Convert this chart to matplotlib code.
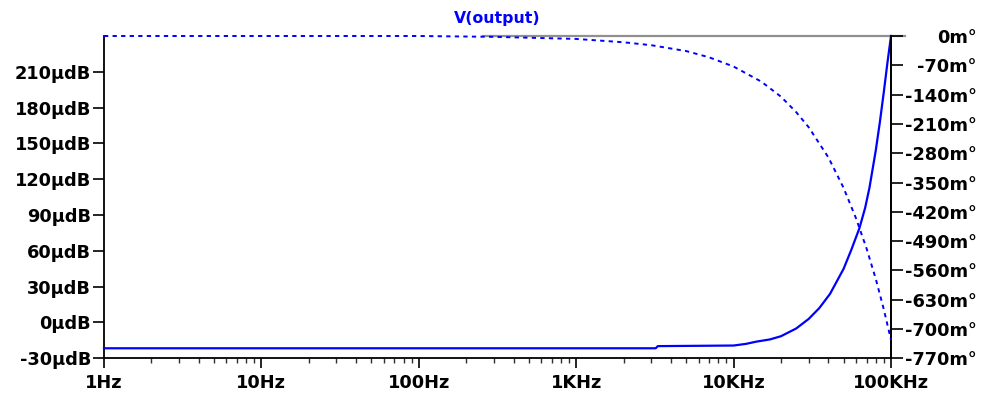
import matplotlib
matplotlib.use("Agg")
import matplotlib.pyplot as plt
from matplotlib.ticker import FixedLocator, LogLocator, NullFormatter, NullLocator
from matplotlib.lines import Line2D

plt.rcParams['font.family'] = ['DejaVu Sans']

# AC sweep of V(output): magnitude (uDB) and phase (milli-degrees)
mag_freq = [1, 3200, 3300, 10e3, 12e3, 14e3, 17e3, 20e3, 25e3, 30e3, 35e3,
            41e3, 50e3, 56e3, 63e3, 68.5e3, 73e3, 80e3, 85e3, 90e3, 95e3, 100e3]
mag_udb = [-21.6, -21.6, -19.8, -19.3, -17.9, -16, -14.2, -11.5, -5, 3, 12,
           24, 45, 61, 79, 96, 113, 144, 168, 193, 218, 240]

ph_freq = [1, 100, 300, 1e3, 2e3, 3e3, 5e3, 7e3, 10e3, 15e3, 20e3, 25e3,
           30e3, 40e3, 50e3, 60e3, 70e3, 80e3, 90e3, 100e3]
ph_mdeg = [0, 0, -2, -7, -15, -22, -36, -51, -73, -109, -145, -182,
           -218, -290, -363, -436, -508, -580, -653, -726]

x_ticks = [1, 10, 100, 1e3, 1e4, 1e5]
x_labels = ["1Hz", "10Hz", "100Hz", "1KHz", "10KHz", "100KHz"]
mag_ticks = [-30, 0, 30, 60, 90, 120, 150, 180, 210]
ph_ticks = [0, -70, -140, -210, -280, -350, -420, -490, -560, -630, -700, -770]

trace_blue = "#0000ff"
font_kw = dict(fontsize=12.8, fontweight='bold')

fig = plt.figure(figsize=(9.81, 3.99), dpi=100)
ax = fig.add_axes([104 / 981, 40.7 / 399, 787 / 981, 322.3 / 399])
ax2 = ax.twinx()

ax.set_xscale('log')
ax.set_xlim(1, 1e5)
ax.set_ylim(-30, 240)
ax2.set_ylim(-770, 0)

ax.plot(mag_freq, mag_udb, color=trace_blue, lw=1.6, clip_on=False, zorder=3)
ax2.plot(ph_freq, ph_mdeg, color=trace_blue, lw=1.4, ls=(0, (2.2, 2.2)),
         clip_on=False, zorder=3)

# frame: left, bottom and right axes only
for a in (ax, ax2):
    a.spines['top'].set_visible(False)
    for s in ('left', 'bottom', 'right'):
        a.spines[s].set_color('black')
        a.spines[s].set_linewidth(1.3)
ax2.spines['left'].set_visible(False)
ax2.spines['bottom'].set_visible(False)

# gray upper border segment
ax.add_line(Line2D([0.482, 1.018], [1.0, 1.0], transform=ax.transAxes,
                   color='#909090', lw=1.6, clip_on=False, zorder=2))

# x axis
ax.xaxis.set_major_locator(FixedLocator(x_ticks))
ax.set_xticklabels(x_labels, **font_kw)
ax.xaxis.set_minor_locator(LogLocator(base=10, subs=range(2, 10), numticks=20))
ax.xaxis.set_minor_formatter(NullFormatter())
ax.tick_params(axis='x', which='major', direction='out', length=7, width=1.2,
               pad=4.5, color='black')
ax.tick_params(axis='x', which='minor', direction='out', length=3.5, width=1.0,
               color='#303030')

# left magnitude axis
ax.yaxis.set_major_locator(FixedLocator(mag_ticks))
ax.yaxis.set_minor_locator(NullLocator())
ax.set_yticklabels([f"{v}\u00b5dB" for v in mag_ticks], **font_kw)
ax.tick_params(axis='y', direction='out', length=8, width=1.2, pad=1.2,
               color='black')

# right phase axis
ax2.yaxis.set_major_locator(FixedLocator(ph_ticks))
ax2.yaxis.set_minor_locator(NullLocator())
ax2.set_yticklabels([f"{v}m\u00b0" for v in ph_ticks], **font_kw)
ax2.tick_params(axis='y', direction='out', length=8.5, width=1.2, pad=53,
                color='black')
for lbl in ax2.get_yticklabels():
    lbl.set_horizontalalignment('right')

ax.set_title("V(output)", color=trace_blue, fontsize=11.3, fontweight='bold',
             pad=9)

fig.savefig("out.png", dpi=100)
